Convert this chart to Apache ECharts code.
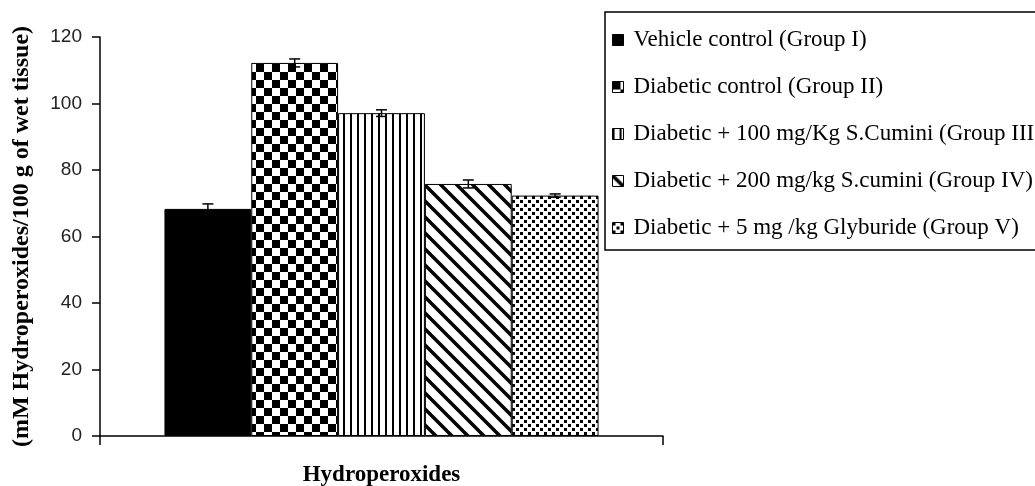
<!DOCTYPE html>
<html>
<head>
<meta charset="utf-8">
<script src="https://cdn.jsdelivr.net/npm/echarts@6/dist/echarts.min.js"></script>
<style>
html,body{margin:0;padding:0;background:#fff;}
#chart{width:1035px;height:486px;}
</style>
</head>
<body>
<div id="chart"></div>
<script>
var categories = ['Hydroperoxides'];
var groups = [
	'Vehicle control (Group I)',
	'Diabetic control (Group II)',
	'Diabetic + 100 mg/Kg S.Cumini (Group III)',
	'Diabetic + 200 mg/kg S.cumini (Group IV)',
	'Diabetic + 5 mg /kg Glyburide (Group V)'
];
var means = [68.3, 112.2, 97.1, 75.8, 72.3];
var errors = [1.5, 1.2, 1.0, 1.2, 0.5];
var yMin = 0, yMax = 120, yStep = 20;

var barFrac = 0.1542; // share of the band each bar takes

// little canvas tiles for the black & white fills
function tile(w, h, draw){
	var c = document.createElement('canvas');
	c.width = w; c.height = h;
	var ctx = c.getContext('2d');
	ctx.fillStyle = '#fff';
	ctx.fillRect(0, 0, w, h);
	ctx.fillStyle = '#000';
	ctx.strokeStyle = '#000';
	draw(ctx);
	return {image: c, repeat: 'repeat'};
}
var fills = [
	'#000',
	tile(16, 16, function(ctx){
		ctx.fillRect(0, 0, 8, 8);
		ctx.fillRect(8, 8, 8, 8);
	}),
	tile(7, 4, function(ctx){
		ctx.fillRect(0, 0, 2, 4);
	}),
	tile(16, 16, function(ctx){
		ctx.lineWidth = 3.5;
		[-16, 0, 16].forEach(function(o){
			ctx.beginPath();
			ctx.moveTo(o - 2, -2);
			ctx.lineTo(o + 18, 18);
			ctx.stroke();
		});
	}),
	tile(8, 8, function(ctx){
		ctx.fillRect(0, 0, 3, 3);
		ctx.fillRect(4, 4, 3, 3);
	})
];

var series = groups.map(function(name, i){
	return {
		name: name,
		type: 'bar',
		barWidth: (barFrac * 100) + '%',
		barGap: '0%',
		data: [means[i]],
		itemStyle: {color: fills[i], borderColor: '#000', borderWidth: 1},
		emphasis: {disabled: true}
	};
});

var errData = means.map(function(m, i){ return [0, m, errors[i], i]; });
series.push({
	type: 'custom',
	name: 'err',
	data: errData,
	z: 10,
	renderItem: function(params, api){
		var idx = api.value(3);
		var band = api.size([1, 0])[0];
		var hi = api.coord([api.value(0), api.value(1) + api.value(2)]);
		var lo = api.coord([api.value(0), api.value(1) - api.value(2)]);
		var x = hi[0] + (idx - (groups.length - 1) / 2) * band * barFrac;
		var cap = 5.5;
		var st = {stroke: '#000', lineWidth: 1.5, fill: null};
		return {
			type: 'group',
			children: [
				{type: 'line', shape: {x1: x, y1: hi[1], x2: x, y2: lo[1]}, style: st},
				{type: 'line', shape: {x1: x - cap, y1: hi[1], x2: x + cap, y2: hi[1]}, style: st},
				{type: 'line', shape: {x1: x - cap, y1: lo[1], x2: x + cap, y2: lo[1]}, style: st}
			]
		};
	}
});

var myChart = echarts.init(document.getElementById('chart'));
var option = {
	animation: false,
	backgroundColor: '#fff',
	grid: {left: 100, right: 372, top: 37, bottom: 50, containLabel: false, outerBoundsMode: 'none'},
	legend: {
		data: groups,
		orient: 'vertical',
		left: 605,
		top: 12,
		padding: [16, 30, 10, 7],
		itemGap: 23,
		itemWidth: 11,
		itemHeight: 11,
		icon: 'rect',
		borderColor: '#000',
		borderWidth: 1.5,
		itemStyle: {borderColor: '#000', borderWidth: 1},
		textStyle: {fontFamily: 'Liberation Serif', fontSize: 23, color: '#000', lineHeight: 24, padding: [0, 0, 0, 5]},
		selectedMode: false
	},
	xAxis: {
		type: 'category',
		data: categories,
		axisLine: {lineStyle: {color: '#000', width: 1.5}},
		axisTick: {show: true, length: 9, lineStyle: {color: '#000', width: 1.5}},
		axisLabel: {
			margin: 28,
			fontFamily: 'Liberation Serif',
			fontWeight: 'bold',
			fontSize: 23,
			color: '#000',
			verticalAlign: 'top'
		}
	},
	yAxis: {
		type: 'value',
		min: yMin,
		max: yMax,
		interval: yStep,
		name: '(mM Hydroperoxides/100 g of wet tissue)',
		nameLocation: 'middle',
		nameGap: 66,
		nameTextStyle: {fontFamily: 'Liberation Serif', fontWeight: 'bold', fontSize: 24, color: '#000'},
		axisLine: {show: true, lineStyle: {color: '#000', width: 1.5}},
		axisTick: {show: true, length: 8, lineStyle: {color: '#000', width: 1.5}},
		axisLabel: {margin: 18, fontFamily: 'Liberation Sans', fontSize: 19, color: '#222', padding: [5, 0, 0, 0]},
		splitLine: {show: false}
	},
	series: series
};
myChart.setOption(option);
</script>
</body>
</html>
